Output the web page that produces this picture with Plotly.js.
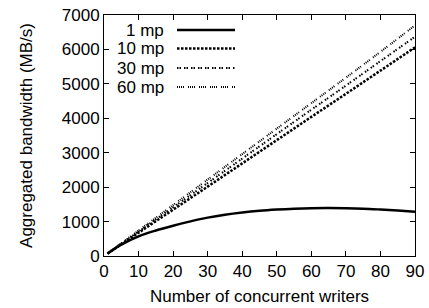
<!DOCTYPE html>
<html>
<head>
<meta charset="utf-8">
<script src="https://cdn.plot.ly/plotly-3.0.1.min.js"></script>
<style>html,body{margin:0;padding:0;background:#fff;}#chart{width:429px;height:308px;}</style>
</head>
<body>
<div id="chart"></div>
<script>
// Data
const xLinear = [1, 10, 20, 30, 40, 50, 60, 70, 80, 90];
const mp10 = [68, 675, 1345, 2015, 2690, 3365, 4040, 4710, 5385, 6060];
const mp30 = [72, 710, 1415, 2120, 2830, 3540, 4250, 4950, 5660, 6370];
const mp60 = [75, 740, 1480, 2220, 2960, 3700, 4440, 5180, 5930, 6700];
const xCurve = [1, 5, 10, 15, 20, 25, 30, 35, 40, 45, 50, 55, 60, 65, 70, 75, 80, 85, 90];
const mp1 = [70, 330, 570, 740, 880, 1005, 1115, 1200, 1265, 1315, 1350, 1375, 1390, 1393, 1388, 1375, 1350, 1320, 1285];
const seriesNames = ["1 mp", "10 mp", "30 mp", "60 mp"];
const xTickVals = [0, 10, 20, 30, 40, 50, 60, 70, 80, 90];
const yTickVals = [0, 1000, 2000, 3000, 4000, 5000, 6000, 7000];

const FONT = "Liberation Sans, Arial, sans-serif";
const FS = 17;

const styles = [
  {width: 2.5, dash: "solid"},
  {width: 2.5, dash: "2.5px,1.5px"},
  {width: 2, dash: "1.5px,1px,1.5px,3px"},
  {width: 2, dash: "1px,1px,1px,1px,1px,1px,1px,4px"}
];

const traces = [
  {x: xCurve, y: mp1, name: seriesNames[0]},
  {x: xLinear, y: mp10, name: seriesNames[1]},
  {x: xLinear, y: mp30, name: seriesNames[2]},
  {x: xLinear, y: mp60, name: seriesNames[3]}
].map((t, i) => Object.assign(t, {
  type: "scatter", mode: "lines", showlegend: false,
  line: {color: "#000", width: styles[i].width, dash: styles[i].dash, shape: "spline", smoothing: 1}
}));

// Legend (gnuplot-style: text left, sample right)
const legY = [30, 48.5, 68, 87]; // pixel rows
const H = 308, mt = 15, mb = 52, ph = H - mt - mb;
const W = 429, ml = 104, mr = 14, pw = W - ml - mr;
const px = v => (v - ml) / pw;
const py = v => 1 - (v - mt) / ph;
const shapes = [], annotations = [];
seriesNames.forEach((n, i) => {
  shapes.push({type: "line", xref: "paper", yref: "paper",
    x0: px(177), x1: px(235), y0: py(legY[i]), y1: py(legY[i]),
    line: {color: "#000", width: styles[i].width, dash: styles[i].dash}});
  annotations.push({xref: "paper", yref: "paper", x: px(166), y: py(legY[i]),
    xanchor: "right", yanchor: "middle", text: n, showarrow: false,
    font: {family: FONT, size: FS, color: "#000"}});
});

const axisCommon = {
  showline: true, linecolor: "#000", linewidth: 1, mirror: "ticks",
  ticks: "inside", ticklen: 5, tickcolor: "#000", tickwidth: 1,
  showgrid: false, zeroline: false,
  tickfont: {family: FONT, size: FS, color: "#000"}
};

const layout = {
  width: W, height: H,
  margin: {l: ml, r: mr, t: mt, b: mb},
  paper_bgcolor: "#fff", plot_bgcolor: "#fff",
  font: {family: FONT, size: FS, color: "#000"},
  xaxis: Object.assign({}, axisCommon, {
    range: [0, 90], tickvals: xTickVals,
    title: {text: "Number of concurrent writers", standoff: 9,
      font: {family: FONT, size: FS, color: "#000"}}
  }),
  yaxis: Object.assign({}, axisCommon, {
    range: [0, 7000], tickvals: yTickVals,
    title: {text: "Aggregated bandwidth (MB/s)", standoff: 24,
      font: {family: FONT, size: FS, color: "#000"}}
  }),
  shapes: shapes, annotations: annotations, showlegend: false
};

Plotly.newPlot("chart", traces, layout, {displayModeBar: false, staticPlot: true});
</script>
</body>
</html>
